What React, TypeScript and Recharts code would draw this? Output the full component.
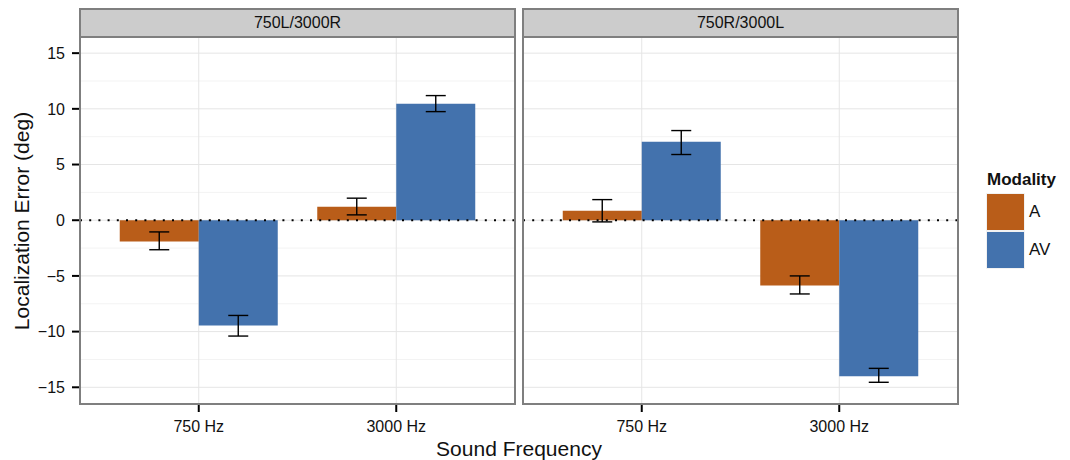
import {
  BarChart,
  Bar,
  XAxis,
  YAxis,
  CartesianGrid,
  ReferenceLine,
  ErrorBar,
} from "recharts";

const FONT = '"Liberation Sans", Arial, Helvetica, sans-serif';

const frequencies = ["750 Hz", "3000 Hz"];
const panelTitles = ["750L/3000R", "750R/3000L"];
const modalities = ["A", "AV"];
const yTicks = [-15, -10, -5, 0, 5, 10, 15];
const yMinorTicks = [-12.5, -7.5, -2.5, 2.5, 7.5, 12.5];
const yDomain = [-16.5, 16.45];

// mean localization error (deg) per frequency
const leftA = [-1.9, 1.2];
const leftAV = [-9.45, 10.45];
const rightA = [0.85, -5.85];
const rightAV = [7.05, -14.0];

// error bars as [below, above]
const leftAErr = [[0.75, 0.85], [0.72, 0.78]];
const leftAVErr = [[0.95, 0.9], [0.7, 0.74]];
const rightAErr = [[1.0, 1.0], [0.77, 0.85]];
const rightAVErr = [[1.15, 1.0], [0.55, 0.7]];

const COLORS: Record<string, string> = { A: "#B95D19", AV: "#4372AD" };

const PLOT_TOP = 37;
const PLOT_W = 435;
const PLOT_H = 367;
const Y_AXIS_W = 80;
const CHART_H = 460;

const fmtTick = (v: number) => (v < 0 ? `\u2212${-v}` : `${v}`);

function Panel({
  title,
  a,
  av,
  aErr,
  avErr,
  showY,
  plotLeft,
}: {
  title: string;
  a: number[];
  av: number[];
  aErr: number[][];
  avErr: number[][];
  showY: boolean;
  plotLeft: number;
}) {
  const data = frequencies.map((f, i) => ({
    freq: f,
    A: a[i],
    AV: av[i],
    aErr: aErr[i],
    avErr: avErr[i],
  }));
  const chartLeft = showY ? plotLeft - Y_AXIS_W : plotLeft;
  const chartW = showY ? PLOT_W + Y_AXIS_W : PLOT_W;

  return (
    <>
      <div
        style={{
          position: "absolute",
          left: plotLeft - 1,
          top: 8,
          width: PLOT_W + 2,
          height: 30,
          boxSizing: "border-box",
          background: "#cccccc",
          border: "2px solid #7f7f7f",
          fontSize: 16,
          lineHeight: "26px",
          textAlign: "center",
          color: "#111",
        }}
      >
        {title}
      </div>
      <div style={{ position: "absolute", left: chartLeft, top: 0 }}>
        <BarChart
          width={chartW}
          height={CHART_H}
          data={data}
          margin={{ top: PLOT_TOP, right: 0, bottom: 0, left: 0 }}
          barCategoryGap="10%"
          barGap={0}
        >
          <CartesianGrid yAxisId="minor" stroke="#f3f3f3" vertical={false} />
          <CartesianGrid stroke="#e5e5e5" strokeWidth={1} />
          <XAxis
            dataKey="freq"
            height={CHART_H - PLOT_TOP - PLOT_H}
            padding={{ left: 20, right: 20 }}
            axisLine={false}
            tickLine={{ stroke: "#000", strokeWidth: 2 }}
            tickSize={8}
            tickMargin={9}
            tick={{ fontSize: 16, fill: "#111", fontFamily: FONT }}
          />
          <YAxis
            yAxisId="minor"
            hide
            type="number"
            domain={yDomain}
            allowDataOverflow
            ticks={yMinorTicks}
          />
          <YAxis
            hide={!showY}
            width={Y_AXIS_W}
            type="number"
            domain={yDomain}
            allowDataOverflow
            ticks={yTicks}
            tickFormatter={fmtTick}
            axisLine={false}
            tickLine={{ stroke: "#000", strokeWidth: 2 }}
            tickSize={8}
            tickMargin={7}
            tick={{ fontSize: 16, fill: "#111", fontFamily: FONT }}
          />
          <Bar dataKey="A" fill={COLORS.A} isAnimationActive={false}>
            <ErrorBar
              dataKey="aErr"
              direction="y"
              width={10}
              stroke="#000"
              strokeWidth={1.4}
              isAnimationActive={false}
            />
          </Bar>
          <Bar dataKey="AV" fill={COLORS.AV} isAnimationActive={false}>
            <ErrorBar
              dataKey="avErr"
              direction="y"
              width={10}
              stroke="#000"
              strokeWidth={1.4}
              isAnimationActive={false}
            />
          </Bar>
          <ReferenceLine
            y={0}
            stroke="#000"
            strokeWidth={2}
            strokeDasharray="2 7.2"
          />
        </BarChart>
      </div>
      <div
        style={{
          position: "absolute",
          left: plotLeft - 1,
          top: PLOT_TOP - 1,
          width: PLOT_W + 2,
          height: PLOT_H + 2,
          boxSizing: "border-box",
          border: "2px solid #7f7f7f",
          pointerEvents: "none",
        }}
      />
    </>
  );
}

export default function App() {
  return (
    <div
      style={{
        position: "absolute",
        left: 0,
        top: 0,
        width: 1070,
        height: 460,
        background: "#fff",
        fontFamily: FONT,
        overflow: "hidden",
      }}
    >
      <Panel
        title={panelTitles[0]}
        a={leftA}
        av={leftAV}
        aErr={leftAErr}
        avErr={leftAVErr}
        showY
        plotLeft={80}
      />
      <Panel
        title={panelTitles[1]}
        a={rightA}
        av={rightAV}
        aErr={rightAErr}
        avErr={rightAVErr}
        showY={false}
        plotLeft={523}
      />

      {/* axis titles */}
      <div
        style={{
          position: "absolute",
          left: 22,
          top: 221,
          transform: "translate(-50%, -50%) rotate(-90deg)",
          whiteSpace: "nowrap",
          fontSize: 21,
          color: "#111",
        }}
      >
        Localization Error (deg)
      </div>
      <div
        style={{
          position: "absolute",
          left: 519,
          top: 449,
          transform: "translate(-50%, -50%)",
          whiteSpace: "nowrap",
          fontSize: 21,
          color: "#111",
        }}
      >
        Sound Frequency
      </div>

      {/* legend */}
      <div
        style={{
          position: "absolute",
          left: 987,
          top: 170,
          fontSize: 17,
          fontWeight: "bold",
          color: "#111",
        }}
      >
        Modality
      </div>
      {modalities.map((m, i) => (
        <div key={m}>
          <div
            style={{
              position: "absolute",
              left: 986,
              top: 193 + i * 38,
              width: 39,
              height: 38,
              boxSizing: "border-box",
              border: "1px solid #f2f2f2",
              background: COLORS[m],
            }}
          />
          <div
            style={{
              position: "absolute",
              left: 1029,
              top: 212 + i * 38,
              transform: "translateY(-50%)",
              fontSize: 17,
              color: "#111",
            }}
          >
            {m}
          </div>
        </div>
      ))}
    </div>
  );
}
